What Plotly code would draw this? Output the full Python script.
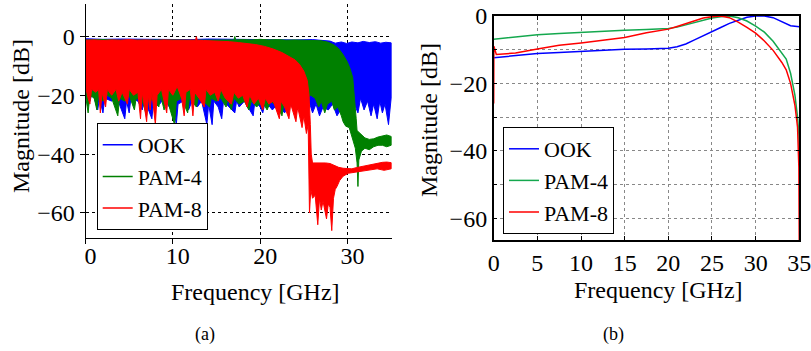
import plotly.graph_objects as go

# OOK (blue)
ook_hi_f = [0, 2, 4, 6, 8, 10, 12, 14, 16, 18, 20, 22, 24, 26, 27, 28, 28.6, 29.3, 29.9, 30.5, 31.2, 31.8, 32.5, 33.2, 33.8, 34.4, 35]
ook_hi = [-0.8, -1.0, -0.9, -1.0, -0.9, -1.0, -1.1, -0.9, -1.0, -1.1, -1.0, -1.1, -1.2, -1.1, -1.3, -1.6, -2.3, -1.9, -2.4, -1.9, -2.2, -1.7, -2.1, -1.8, -2.3, -2.0, -2.2]
ook_lo_f = [0, 0.5, 0.8, 1.4, 1.6, 2.0, 2.2, 3.0, 3.5, 4.5, 4.7, 5.0, 5.2, 6.0, 6.5, 6.7, 7.6, 7.8, 8.5, 9.0,
            9.6, 10.0, 10.4, 10.6, 11.2, 11.8, 12.2, 12.8, 13.3, 13.9, 14.1, 14.5, 14.7, 15.2, 15.6, 15.8, 16.5, 17.1, 17.3, 17.6,
            18.2, 18.8, 19.2, 19.4, 20.0, 20.3, 20.6, 21.4, 22.0, 22.8, 23.4, 24.0, 24.6, 25.2, 25.6, 26.0, 26.4, 26.8, 27.2, 27.8,
            28.3, 28.8, 29.2, 29.6, 30.0, 30.4, 30.8, 31.2, 31.5, 31.9, 32.3, 32.7, 33.0, 33.4, 33.7, 34.0, 34.3, 34.7, 35.0]
ook_lo = [-18, -22, -19, -25, -21, -26, -21, -22, -20, -28, -22, -26, -21, -22, -25, -21, -28, -22, -23, -21,
          -24, -22, -30, -23, -22, -25, -22, -24, -22, -30, -23, -30, -22, -24, -28, -22, -24, -26, -22, -24,
          -22, -25, -27, -22, -24, -26, -22, -25, -23, -26, -23, -25, -22, -24, -22, -26, -23, -27, -24, -25,
          -23, -27, -25, -28, -24, -27, -23, -26, -21, -25, -22, -27, -23, -28, -22, -26, -23, -30, -21]

# PAM-4 (green)
pam4_hi_f = [0, 2, 4, 6, 8, 10, 12, 14, 16, 17.0, 17.1, 17.2, 18, 19, 20, 21, 22, 23, 24, 25, 26, 27, 27.8, 28.5, 29, 29.5,
             30, 30.3, 30.6, 30.8, 31.0, 31.1, 31.3, 31.6, 32, 32.5, 33, 33.5, 34, 34.5, 35]
pam4_hi = [-1.2, -1.1, -1.3, -1.2, -1.1, -1.2, -1.3, -1.2, -1.1, -1.2, 0.0, -1.2, -1.1, -1.2, -1.0, -1.2, -1.1, -1.3, -1.2, -1.3, -1.2, -1.5, -2.0, -3.0, -4.2, -6.2,
           -8.8, -11, -14, -20, -28, -32, -32.5, -33.5, -34.5, -35, -34.8, -34.2, -33.8, -33.5, -34]
pam4_lo_f = [0, 0.3, 0.5, 1.0, 1.3, 1.5, 2.0, 2.5, 3.0, 3.7, 3.9, 4.5, 5.0, 5.6, 5.8, 6.5, 7.0, 7.2, 7.8, 8.4,
             8.6, 9.0, 9.3, 10.2, 10.4, 11.0, 11.7, 11.9, 12.7, 12.9, 13.5, 14.2, 14.4, 15.0, 15.5, 16.1, 16.3, 16.7, 17.0, 17.6,
             18.2, 18.7, 19.0, 19.6, 20.2, 20.8, 21.2, 22.0, 22.5, 22.7, 23.2, 23.8, 24.3, 24.8, 25.3, 25.8, 26.3, 26.7, 27.0, 27.4,
             27.7, 28.2, 28.5, 28.9, 29.3, 29.5, 29.8, 30.2, 30.6, 30.9, 31.1, 31.2, 31.3, 31.6, 32.0, 32.5, 33.0, 33.5, 34.0, 34.5, 35.0]
pam4_lo = [-20, -26, -20, -21, -25, -20, -22, -20, -21, -27, -21, -22, -20, -25, -21, -22, -27, -21, -22, -24,
           -20, -25, -21, -30, -22, -21, -26, -21, -24, -21, -22, -24, -21, -22, -21, -24, -21, -25, -21, -23,
           -22, -25, -22, -24, -22, -25, -22, -24, -27, -23, -24, -22, -25, -22, -21, -20, -21, -24, -22, -26,
           -23, -22, -25, -24, -27, -29, -30.5, -31, -35, -38, -43, -51, -42, -39, -38, -38.5, -37.5, -37, -37, -37.5, -37]

# PAM-8 (red)
pam8_hi_f = [0, 1, 2, 3, 4, 5, 6, 7, 8, 9, 10, 11, 12, 12.6, 12.7, 12.8, 13.5, 14.5, 15.5, 16.5, 17.5, 18.5, 19.5, 20.5,
             21.5, 22.5, 23.3, 24, 24.5, 25, 25.4, 25.6, 25.75, 25.85, 26.0, 26.5, 27, 27.5, 28, 28.5, 29, 29.5, 30,
             30.5, 31, 31.5, 32, 32.5, 33, 33.5, 34, 34.5, 35]
pam8_hi = [-1.3, -1.2, -1.4, -1.2, -1.3, -1.1, -1.3, -1.2, -1.4, -1.2, -1.3, -1.3, -1.2, -1.3, -0.1, -1.3, -1.4, -1.5, -1.6, -1.8, -2.1, -2.4, -2.8, -3.4,
           -4.3, -5.5, -6.8, -8, -9.5, -11.8, -15, -20, -30, -40, -43, -43, -42.8, -43, -43.2, -43.8, -44.5, -44.8, -45,
           -45, -44.6, -44.3, -44, -43.6, -43.3, -43, -42.8, -42.7, -42.9]
pam8_lo_f = [0, 0.3, 0.5, 0.7, 1.2, 1.5, 1.7, 1.9, 2.3, 2.5, 3.0, 3.5, 3.8, 4.2, 4.8, 5.0, 5.5, 6.0, 6.3, 6.5,
             7.0, 7.2, 7.4, 7.6, 8.0, 8.2, 8.7, 9.0, 9.3, 9.5, 10.0, 10.5, 11.0, 11.3, 11.5, 12.0, 12.3, 12.5, 13.0, 13.6,
             13.8, 14.3, 14.8, 15.2, 15.5, 16.0, 16.7, 17.0, 17.5, 18.0, 18.5, 18.8, 19.3, 19.8, 20.3, 20.6, 21.0, 21.5, 22.2, 22.4,
             22.8, 23.3, 23.5, 24.1, 24.3, 24.8, 25.0, 25.3, 25.5, 25.65, 25.8, 26.0, 26.3, 26.6, 26.8, 27.0, 27.2, 27.6, 27.8, 28.0,
             28.2, 28.4, 28.6, 28.8, 29.1, 29.5, 30.1, 31.1, 32.2, 33.4, 34.2, 35.0]
pam8_lo = [-17, -21, -23, -18, -19, -18, -26, -19, -24, -18, -20, -18, -22, -19, -23, -18, -20, -19, -28, -19,
           -29, -20, -25, -19, -30, -20, -18, -22, -26, -18, -20, -17, -21, -27, -19, -18, -27, -19, -21, -24,
           -18, -20, -19, -22, -18, -21, -23, -19, -21, -20, -24, -20, -23, -21, -25, -21, -23, -22, -28, -22,
           -24, -28, -23, -29, -24, -31, -27, -33, -30, -60, -52, -55, -54, -64, -55, -59, -56, -62, -57, -58,
           -66, -55, -52, -51, -49, -47.5, -46.5, -46, -45.5, -45, -45.5, -45]

# ---------------- Panel (b): smooth responses ----------------
ook_f = [0, 2.5, 5, 7.5, 10, 12.5, 15, 17.5, 20, 21, 22, 23, 24, 25, 26, 27, 28, 29, 30, 31, 32, 33, 34, 35]
ook_db = [-12.4, -11.8, -11.1, -10.8, -10.5, -10.1, -9.9, -9.8, -9.6, -9.1, -8.3, -7.1, -5.8, -4.6, -3.4, -2.2, -1.2, -0.4, 0, 0, -0.5, -1.8, -2.9, -3.2]
pam4_f = [0, 2.5, 5, 7.5, 10, 12.5, 15, 17.5, 20, 21, 22, 23, 24, 25, 26, 27, 28, 29, 30, 31, 32, 33, 33.5, 34, 34.5, 34.8, 34.95, 35]
pam4_db = [-6.9, -6.2, -5.6, -5.2, -4.8, -4.5, -4.2, -4.0, -3.7, -3.3, -2.6, -1.8, -1.1, -0.6, -0.2, 0, -0.5, -1.5, -3.0, -4.8, -7.5, -11, -12.8, -17, -23.5, -30, -35, -41]
pam8_f = [0, 0.02, 0.3, 2.5, 5, 7.5, 10, 12.5, 15, 17.5, 20, 21, 22, 23, 24, 25, 26, 27, 28, 29, 30, 31, 32, 33, 33.5, 34, 34.5, 34.8, 34.95, 35]
pam8_db = [-26, -9, -11.4, -11.0, -9.8, -8.7, -8.0, -7.3, -6.4, -5.0, -3.9, -3.1, -2.3, -1.3, -0.6, -0.2, 0, -0.5, -1.8, -3.4, -5.1, -7.4, -10.2, -13.8, -16, -20, -26.5, -33, -45, -70]

series_names = ["OOK", "PAM-4", "PAM-8"]
colors_a = ["#0000ff", "#008000", "#ff0000"]
colors_b = ["#0000ff", "#14a84e", "#ff0000"]
xticks_a = [0, 10, 20, 30]
xticks_b = [0, 5, 10, 15, 20, 25, 30, 35]
yticks = [0, -20, -40, -60]

FONT = "Liberation Serif"
W, H = 811, 351


def px(xr):
    return xr / W


def py(yr):
    return 1 - yr / H


fig = go.Figure()

bands = [(ook_hi_f, ook_hi, ook_lo_f, ook_lo),
         (pam4_hi_f, pam4_hi, pam4_lo_f, pam4_lo),
         (pam8_hi_f, pam8_hi, pam8_lo_f, pam8_lo)]
for (hf, hy, lf, ly), name, col in zip(bands, series_names, colors_a):
    fig.add_trace(go.Scatter(x=hf + lf[::-1], y=hy + ly[::-1], mode="lines", fill="toself",
                             fillcolor=col, line=dict(color=col, width=1), showlegend=False,
                             hoverinfo="skip", xaxis="x", yaxis="y"))
for name, col in zip(series_names, colors_a):
    fig.add_trace(go.Scatter(x=[None], y=[None], mode="lines", name=name, line=dict(color=col, width=1.5),
                             xaxis="x", yaxis="y", legend="legend"))

for fx, fy, name, col in zip([ook_f, pam4_f, pam8_f], [ook_db, pam4_db, pam8_db], series_names, colors_b):
    fig.add_trace(go.Scatter(x=fx, y=fy, mode="lines", name=name, line=dict(color=col, width=1.5),
                             xaxis="x2", yaxis="y2", legend="legend2"))

tickfont = dict(family=FONT, size=24, color="black")
legfont = dict(family=FONT, size=22, color="black")

fig.update_layout(
    template="none",
    width=W, height=H, margin=dict(l=0, r=0, t=0, b=0, autoexpand=False),
    paper_bgcolor="white", plot_bgcolor="white",
    font=dict(family=FONT, size=24, color="black"),
    showlegend=True,
    xaxis=dict(domain=[px(85.5), px(392)], range=[0, 35.1], tickvals=xticks_a, showline=True, linecolor="black",
               linewidth=1, mirror=False, ticks="outside", ticklen=5, tickcolor="black", showgrid=True,
               gridcolor="black", griddash="dot", gridwidth=1, zeroline=False, tickfont=tickfont,
               ticklabelshift=5, ticklabelstandoff=-9, anchor="y", automargin=False, ticklabeloverflow="allow"),
    yaxis=dict(domain=[py(238), py(4)], range=[-68.5, 11], tickvals=yticks, showline=True, linecolor="black",
               linewidth=1, mirror=False, ticks="outside", ticklen=5, tickcolor="black", showgrid=True,
               gridcolor="black", griddash="dot", gridwidth=1, zeroline=False, tickfont=tickfont, anchor="x",
               automargin=False, ticklabeloverflow="allow"),
    xaxis2=dict(domain=[px(493.7), px(799.3)], range=[0, 35], tickvals=xticks_b, showline=True, linecolor="black",
                linewidth=1.5, mirror="ticks", ticks="inside", ticklen=4, tickcolor="black", showgrid=True,
                gridcolor="#888888", griddash="dot", gridwidth=1, zeroline=False, tickfont=tickfont, anchor="y2",
                ticklabelstandoff=0, automargin=False, ticklabeloverflow="allow"),
    yaxis2=dict(domain=[py(240), py(16)], range=[-66.5, 0], tickvals=yticks, showline=True, linecolor="black",
                linewidth=1.5, mirror="ticks", ticks="inside", ticklen=4, tickcolor="black", showgrid=True,
                gridcolor="#888888", griddash="dot", gridwidth=1, zeroline=False, tickfont=tickfont, anchor="x2",
                automargin=False, ticklabeloverflow="allow",
                minor=dict(dtick=10, tick0=0, showgrid=True, gridcolor="#888888", griddash="dot", ticks="inside",
                           ticklen=4, tickcolor="black")),
    legend=dict(x=px(96.7), y=py(123), xanchor="left", yanchor="top", bgcolor="white", bordercolor="black",
                borderwidth=1, font=legfont, itemwidth=30, tracegroupgap=0),
    legend2=dict(x=px(503), y=py(127), xanchor="left", yanchor="top", bgcolor="white", bordercolor="black",
                 borderwidth=1, font=legfont, itemwidth=30, tracegroupgap=0),
)

ann = [
    dict(text="Magnitude [dB]", x=21, y=116, textangle=-90, size=24),
    dict(text="Frequency [GHz]", x=255, y=292, textangle=0, size=24),
    dict(text="Magnitude [dB]", x=429, y=120, textangle=-90, size=24),
    dict(text="Frequency [GHz]", x=658, y=290, textangle=0, size=24),
    dict(text="(a)", x=205, y=334, textangle=0, size=18),
    dict(text="(b)", x=613, y=334, textangle=0, size=18),
]
for a in ann:
    fig.add_annotation(text=a["text"], x=px(a["x"]), y=py(a["y"]), xref="paper", yref="paper", showarrow=False,
                       textangle=a["textangle"], xanchor="center", yanchor="middle",
                       font=dict(family=FONT, size=a["size"], color="black"))

# remove the default page margin so the 811x351 figure fills the window exactly
fig.write_html("out.html", config={"displayModeBar": False},
               post_script="document.body.style.margin='0';document.body.style.overflow='hidden';")
